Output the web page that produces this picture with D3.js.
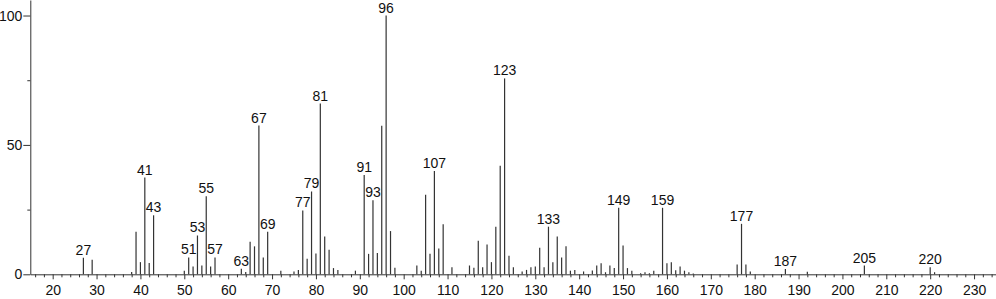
<!DOCTYPE html>
<html>
<head>
<meta charset="utf-8">
<script src="https://cdn.jsdelivr.net/npm/d3@7"></script>
<style>
  body { margin: 0; background: #fff; }
  svg { display: block; font-family: "Liberation Sans", Arial, sans-serif; }
</style>
</head>
<body>
<div id="wrapper"></div>
<script>
// m/z values and relative intensities
const mz = [27, 29, 38, 39, 40, 41, 42, 43, 50, 51, 52, 53, 54, 55, 56, 57,
    63, 64, 65, 66, 67, 68, 69, 72, 75, 76, 77, 78, 79, 80, 81, 82, 83, 84, 85, 89,
    91, 92, 93, 94, 95, 96, 97, 98, 103, 104, 105, 106, 107, 108, 109, 111,
    115, 116, 117, 118, 119, 120, 121, 122, 123, 124, 125, 127, 128, 129, 130,
    131, 132, 133, 134, 135, 136, 137, 138, 139, 141, 143, 144, 145, 146, 147, 148,
    149, 150, 151, 152, 154, 155, 156, 157, 159, 160, 161, 162, 163, 164, 165, 166,
    176, 177, 178, 179, 187, 192, 205, 220, 221];
const intensity = [6.4, 5.6, 0.9, 16.4, 4.7, 37.4, 4.4, 22.8, 1.4, 6.5, 3.0, 15.0, 3.4, 30.2, 3.0, 6.5,
    2.1, 0.9, 12.6, 10.8, 57.5, 6.5, 16.4, 1.4, 1.1, 1.7, 24.7, 6.0, 32.0, 8.0, 66.0, 14.6, 9.5, 2.4, 1.7, 1.4,
    38.4, 7.9, 28.6, 8.2, 57.4, 100, 16.7, 2.5, 3.4, 1.4, 30.7, 7.9, 39.9, 10.0, 19.3, 2.7,
    3.4, 2.5, 13.0, 2.7, 11.5, 4.7, 18.4, 41.9, 75.7, 7.2, 2.7, 1.1, 1.7, 2.7, 3.0,
    10.3, 2.7, 18.4, 4.7, 14.6, 6.5, 10.8, 1.4, 1.7, 1.1, 1.5, 3.4, 4.3, 0.8, 3.4, 2.4,
    25.7, 11.1, 2.4, 1.4, 0.4, 0.8, 0.4, 1.4, 25.7, 4.3, 4.7, 1.6, 3.0, 1.4, 0.8, 0.3,
    3.8, 19.5, 3.8, 1.1, 2.0, 1.0, 3.4, 2.7, 0.8];
// peaks that carry a text label
const labelled = [27, 41, 43, 51, 53, 55, 57, 63, 67, 69, 77, 79, 81, 91, 93, 96,
    107, 123, 133, 149, 159, 177, 187, 205, 220];
const xTicks = d3.range(20, 231, 10);
const xMinor = d3.range(16, 235, 2).filter(d => d % 10 !== 0);
const yTicks = [0, 50, 100];
const yMinor = [25, 75];

const width = 996
const height = 299
const left = 30.3
const bottom = 274.3

const peaks = mz.map((m, i) => ({ m: m, v: intensity[i] }));

const svg = d3.select("#wrapper")
    .append("svg")
    .attr("width", width)
    .attr("height", height);

const x = d3.scaleLinear()
    .domain([14.9, 235])
    .range([left, width]);

const y = d3.scaleLinear()
    .domain([0, 106])
    .range([bottom, 0]);

// x axis: minor ticks first, then major ticks with labels
svg.append("g")
    .attr("transform", `translate(0,${bottom})`)
    .call(d3.axisBottom(x).tickValues(xMinor).tickSize(3).tickFormat(""))
    .call(g => g.select(".domain").remove());

svg.append("g")
    .attr("transform", `translate(0,${bottom})`)
    .call(d3.axisBottom(x).tickValues(xTicks).tickSize(5).tickSizeOuter(0).tickPadding(6))
    .call(g => g.selectAll("text").attr("font-size", "14px").attr("fill", "#111"));

// y axis
svg.append("g")
    .attr("transform", `translate(${left},0)`)
    .call(d3.axisLeft(y).tickValues(yMinor).tickSize(3).tickFormat(""))
    .call(g => g.select(".domain").remove());

svg.append("g")
    .attr("transform", `translate(${left},0)`)
    .call(d3.axisLeft(y).tickValues(yTicks).tickSize(7).tickSizeOuter(0).tickPadding(1))
    .call(g => g.selectAll("text").attr("font-size", "14px").attr("fill", "#111"));

svg.selectAll(".domain, .tick line").attr("stroke", "#333");
svg.style("font-family", "'Liberation Sans', Arial, sans-serif");
svg.selectAll("g").attr("font-family", null);

// sticks
svg.append("g")
    .selectAll("line")
    .data(peaks)
    .enter()
    .append("line")
    .attr("x1", d => x(d.m))
    .attr("x2", d => x(d.m))
    .attr("y1", y(0))
    .attr("y2", d => y(d.v))
    .attr("stroke", "#333")
    .attr("stroke-width", 1.2);

// peak labels
svg.append("g")
    .selectAll("text")
    .data(peaks.filter(d => labelled.includes(d.m)))
    .enter()
    .append("text")
    .attr("x", d => x(d.m))
    .attr("y", d => y(d.v) - 3)
    .attr("text-anchor", "middle")
    .attr("font-size", "14px")
    .attr("fill", "#111")
    .text(d => d.m);
</script>
</body>
</html>
